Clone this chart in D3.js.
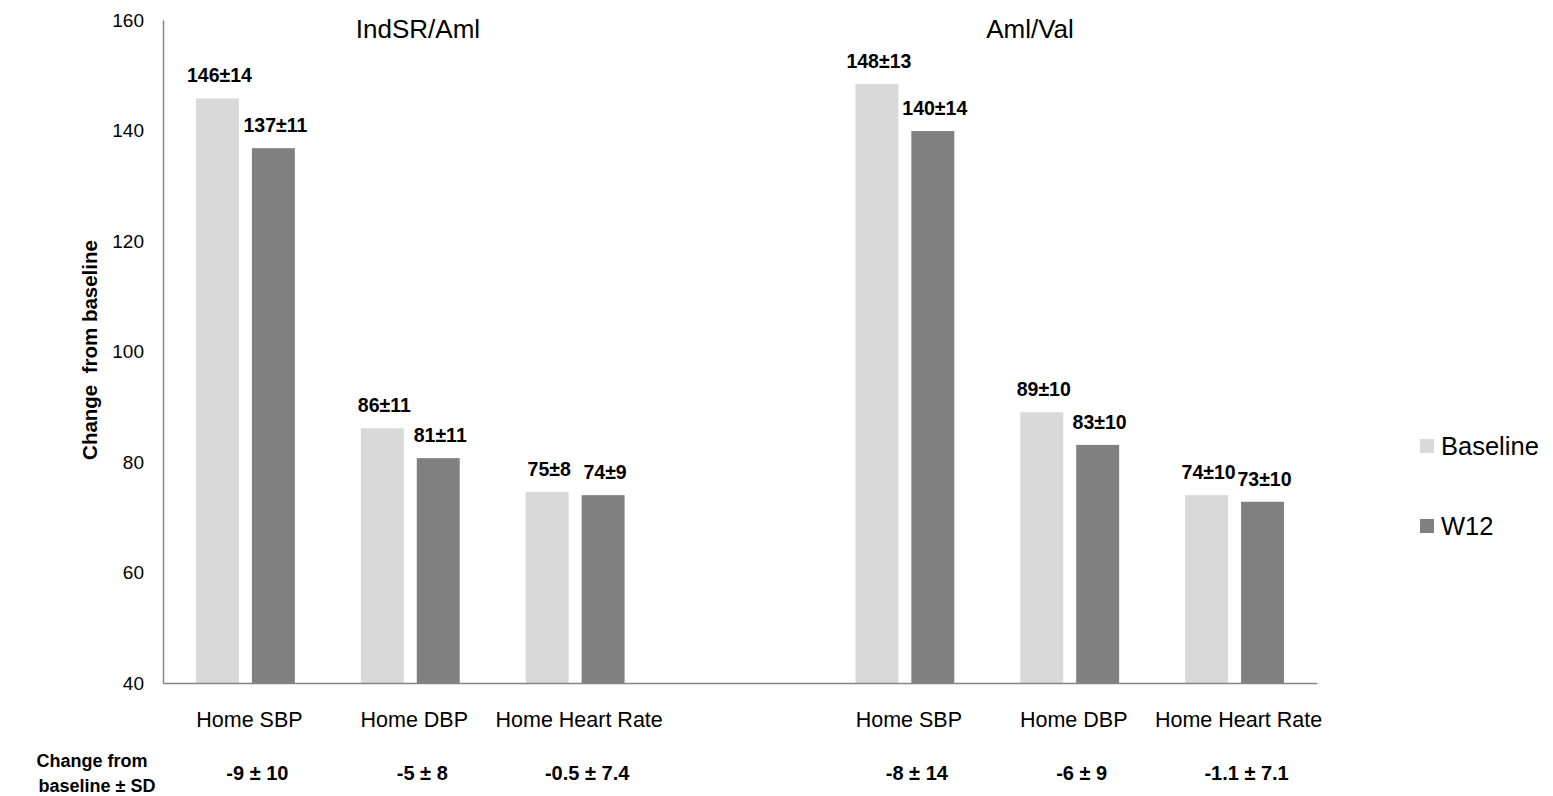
<!DOCTYPE html>
<html>
<head>
<meta charset="utf-8">
<script src="https://cdn.jsdelivr.net/npm/d3@7"></script>
<style>
  html, body { margin: 0; padding: 0; background: #fff; }
  svg { display: block; font-family: "Liberation Sans", Arial, sans-serif; }
</style>
</head>
<body>
<svg id="chart" width="1553" height="796"></svg>
<script>
// ---- data ----
const groups = ["IndSR/Aml", "Aml/Val"];
const categories = ["Home SBP", "Home DBP", "Home Heart Rate"];
const seriesNames = ["Baseline", "W12"];
const baselineValues = [145.8, 86.1, 74.6, 148.4, 89.0, 74.0];
const w12Values = [136.8, 80.7, 74.0, 139.9, 83.1, 72.8];
const baselineLabels = ["146±14", "86±11", "75±8", "148±13", "89±10", "74±10"];
const w12Labels = ["137±11", "81±11", "74±9", "140±14", "83±10", "73±10"];
const changeLabels = ["-9 ± 10", "-5 ± 8", "-0.5 ± 7.4", "-8 ± 14", "-6 ± 9", "-1.1 ± 7.1"];
const yTicks = [40, 60, 80, 100, 120, 140, 160];
const colors = ["#d9d9d9", "#808080"];

// ---- layout ----
const svg = d3.select("#chart");
const x0 = 163, x1 = 1317, yTop = 20, yBot = 683;

// slot keys: 3 categories, an empty gap slot, 3 categories
const slots = [];
groups.forEach((g, gi) => {
  categories.forEach(c => slots.push(g + "|" + c));
  if (gi === 0) slots.push("gap");
});
const rows = [];
groups.forEach((g, gi) => categories.forEach((c, ci) => {
  const i = gi * categories.length + ci;
  rows.push({ key: g + "|" + c, cat: c, vals: [baselineValues[i], w12Values[i]],
              labels: [baselineLabels[i], w12Labels[i]], change: changeLabels[i] });
}));

const x = d3.scaleBand().domain(slots).range([x0, x1]).padding(0);
const xs = d3.scaleBand().domain(seriesNames).range([0, x.bandwidth()])
  .paddingInner(0.232).paddingOuter(0.59);
const y = d3.scaleLinear().domain([40, 160]).range([yBot, yTop]);

// bars
const g = svg.append("g");
const grp = g.selectAll("g.cat").data(rows).enter().append("g")
  .attr("transform", d => `translate(${x(d.key)},0)`);
grp.selectAll("rect").data(d => d.vals.map((v, i) => ({ v, i, s: seriesNames[i] })))
  .enter().append("rect")
  .attr("x", d => xs(d.s)).attr("width", xs.bandwidth())
  .attr("y", d => y(d.v)).attr("height", d => y(40) - y(d.v))
  .attr("fill", d => colors[d.i]);
grp.selectAll("text.val").data(d => d.vals.map((v, i) => ({ v, i, s: seriesNames[i], l: d.labels[i] })))
  .enter().append("text").attr("class", "val")
  .attr("x", d => xs(d.s) + xs.bandwidth() / 2 + 2)
  .attr("y", d => y(d.v) - 16)
  .attr("text-anchor", "middle")
  .attr("font-size", 19.5).attr("font-weight", "bold").attr("fill", "#000")
  .text(d => d.l);

// y axis
const yAxis = d3.axisLeft(y).tickValues(yTicks).tickSize(0).tickPadding(19);
const ya = svg.append("g").attr("transform", `translate(${x0},0)`).call(yAxis);
ya.select(".domain").attr("stroke", "#868686").attr("stroke-width", 1.5);
ya.selectAll("text").attr("font-size", 19).attr("fill", "#000")
  .attr("font-family", "Liberation Sans, Arial, sans-serif");

// x axis
const xAxis = d3.axisBottom(x).tickSize(0).tickPadding(0).tickFormat(() => "");
const xa = svg.append("g").attr("transform", `translate(0,${yBot})`).call(xAxis);
xa.select(".domain").attr("stroke", "#868686").attr("stroke-width", 1.5);

// category labels
svg.append("g").selectAll("text").data(rows).enter().append("text")
  .attr("x", d => x(d.key) + x.bandwidth() / 2 + 4)
  .attr("y", 727).attr("text-anchor", "middle")
  .attr("font-size", 21.5).attr("fill", "#000").text(d => d.cat);

// change row
svg.append("g").selectAll("text").data(rows).enter().append("text")
  .attr("x", d => x(d.key) + x.bandwidth() / 2 + 12)
  .attr("y", 780).attr("text-anchor", "middle")
  .attr("font-size", 20).attr("font-weight", "bold").attr("fill", "#000").text(d => d.change);
const rowTitle = svg.append("text").attr("text-anchor", "middle")
  .attr("font-size", 18).attr("font-weight", "bold").attr("fill", "#000");
rowTitle.append("tspan").attr("x", 92).attr("y", 767).text("Change from");
rowTitle.append("tspan").attr("x", 97).attr("y", 792).text("baseline ± SD");

// group titles
const titleX = [418, 1030];
svg.append("g").selectAll("text").data(groups).enter().append("text")
  .attr("x", (d, i) => titleX[i]).attr("y", 38).attr("text-anchor", "middle")
  .attr("font-size", 26).attr("fill", "#000").text(d => d);

// y title
svg.append("text").attr("transform", "translate(97,350) rotate(-90)")
  .attr("text-anchor", "middle").attr("font-size", 20.5).attr("font-weight", "bold")
  .attr("fill", "#000").attr("xml:space", "preserve").style("white-space", "pre")
  .text("Change  from baseline");

// legend
const lg = svg.append("g").selectAll("g").data(seriesNames).enter().append("g")
  .attr("transform", (d, i) => `translate(1420,${439 + i * 80})`);
lg.append("rect").attr("width", 14).attr("height", 14).attr("fill", (d, i) => colors[i]);
lg.append("text").attr("x", 21).attr("y", 7).attr("dy", "0.35em")
  .attr("font-size", 25.5).attr("fill", "#000").text(d => d);
</script>
</body>
</html>
